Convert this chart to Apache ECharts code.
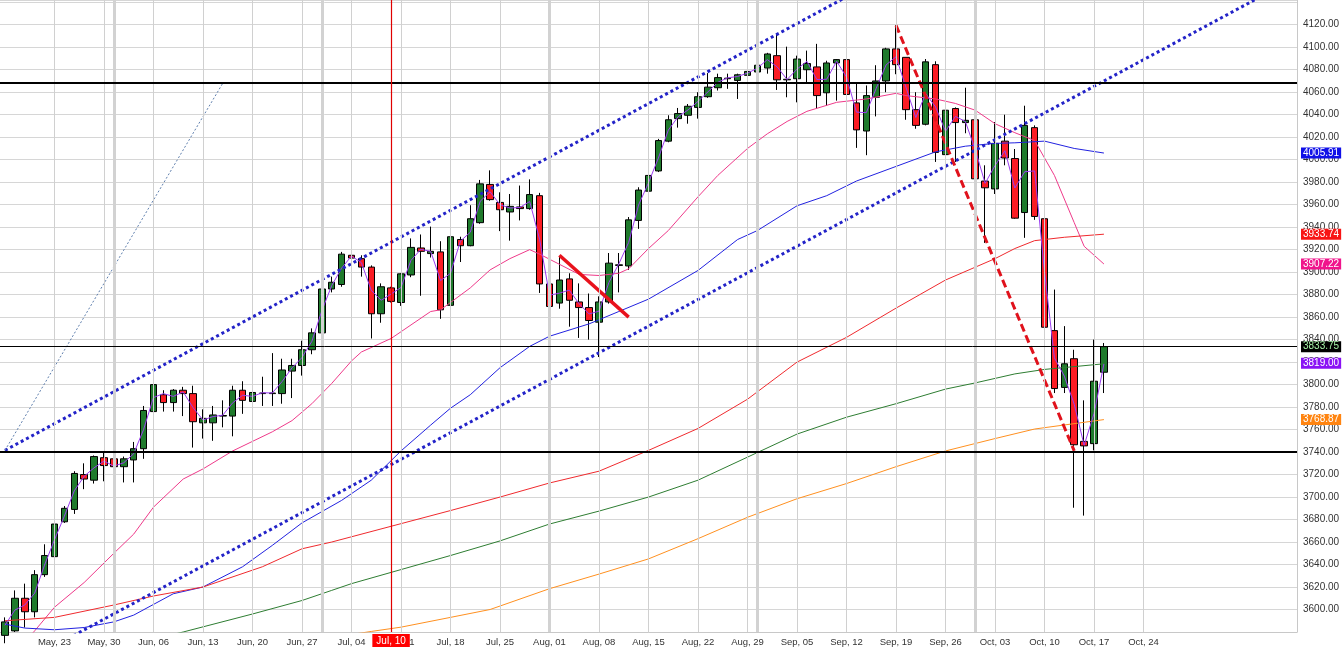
<!DOCTYPE html>
<html>
<head>
<meta charset="utf-8">
<title>Daily chart</title>
<script src="https://cdn.jsdelivr.net/npm/echarts@6/dist/echarts.min.js"></script>
<style>
  html, body { margin: 0; padding: 0; background: #fff; }
  #chart { width: 1343px; height: 662px; }
</style>
</head>
<body>
<div id="chart"></div>
<script>
// daily bars, index 0 = first bar on the left (131 slots, data for 112)
const slotCount = 131;

const opens = [
  3577, 3581, 3610, 3598, 3631, 3647, 3678, 3689, 3720, 3715,
  3735, 3734, 3727, 3733, 3743, 3776, 3791, 3784, 3795, 3792,
  3766, 3766, 3772, 3772, 3795, 3785, 3792, 3792, 3792, 3812,
  3817, 3831, 3846, 3885, 3889, 3915, 3912, 3904.5, 3863, 3886,
  3873, 3897.5, 3921.5, 3916.5, 3918, 3870.5, 3929, 3923.5, 3944, 3978,
  3962, 3953.5, 3958, 3956.5, 3968, 3889.5, 3872.5, 3894, 3873.5, 3868.5,
  3855.5, 3873.5, 3906, 3905.5, 3946, 3972, 3990, 4016.5, 4036.5, 4039.5,
  4046.5, 4056, 4064, 4072, 4070.5, 4075, 4078, 4081.5, 4092.5, 4071,
  4072, 4080, 4082.5, 4059.5, 4086, 4089, 4050.5, 4025.5, 4055.5, 4070,
  4098.5, 4091, 4044.5, 4031.5, 4084.5, 4004.5, 4045.5, 4033, 4035.5, 3981,
  3974, 4016.5, 4001, 3953, 4028.5, 3947.5, 3848, 3797.5, 3823, 3749.5,
  3747.5, 3811
];
const closes = [
  3589, 3610, 3598, 3631, 3648, 3676, 3690, 3721, 3716, 3736,
  3728, 3727, 3734, 3743, 3777, 3800, 3784, 3795, 3792, 3767,
  3770, 3773, 3772.5, 3795, 3786, 3793, 3792.5, 3792.5, 3813, 3817,
  3831, 3846, 3885, 3891, 3916, 3912.5, 3904.5, 3863, 3887, 3874,
  3898.5, 3922, 3918.5, 3918.5, 3866.5, 3931.5, 3923.5, 3947.5, 3978.5, 3964.5,
  3955.5, 3958.5, 3956.5, 3969, 3889.5, 3869.5, 3893, 3875, 3868.5, 3857,
  3873.5, 3908, 3906.5, 3946.5, 3973, 3986, 4017, 4035.5, 4041, 4047.5,
  4056, 4064.5, 4073, 4072.5, 4075.5, 4078.5, 4084, 4094, 4071, 4071.5,
  4089.5, 4085.5, 4057, 4086, 4089, 4058, 4026.5, 4057, 4070, 4098.5,
  4084.5, 4044.5, 4030.5, 4087, 4006.5, 4044, 4033, 4035, 3983, 3975,
  4014.5, 4001.5, 3948, 4030.5, 3949.5, 3851, 3796.5, 3818.5, 3746.5, 3745.5,
  3803, 3833.75
];
const lows = [
  3570, 3580, 3584, 3593, 3629, 3645, 3677, 3685, 3707, 3712,
  3714, 3706, 3713, 3713, 3734, 3775, 3776, 3776, 3772, 3744,
  3752, 3750, 3762, 3754, 3774, 3780, 3781, 3781, 3783, 3788,
  3808, 3827, 3845, 3882, 3887, 3911, 3896, 3841, 3855, 3873,
  3870, 3895.5, 3879, 3913, 3858.5, 3853.5, 3909, 3923, 3943, 3963.5,
  3936.5, 3928, 3946, 3955.5, 3881.5, 3846.5, 3867.5, 3851.5, 3841.5, 3840,
  3824.5, 3872, 3882, 3902, 3938.5, 3947.5, 3989, 4015.5, 4028.5, 4032,
  4036.5, 4055, 4061.5, 4063, 4054, 4062, 4076, 4076.5, 4062, 4055.5,
  4051, 4067.5, 4045.5, 4048, 4052.5, 4049, 4010.5, 4004, 4038.5, 4060,
  4076, 4035.5, 4027.5, 4030.5, 3998, 4002.5, 3998, 4023.5, 3965, 3926,
  3969.5, 3995, 3947.5, 3930.5, 3946.5, 3850.5, 3792.5, 3792.5, 3690.5, 3683.5,
  3741.5, 3792.5
];
const highs = [
  3593, 3617, 3623, 3635, 3658, 3677, 3692, 3723, 3730, 3737,
  3740, 3740, 3736, 3749, 3781, 3800.5, 3795, 3796, 3798, 3799,
  3778, 3781, 3786, 3799, 3803, 3795, 3807, 3828, 3823, 3823,
  3839, 3850, 3894, 3896, 3918, 3916, 3915, 3906, 3890, 3887,
  3899, 3930, 3933.5, 3940.5, 3927.5, 3935.5, 3931.5, 3959.5, 3982, 3990.5,
  3971, 3969.5, 3977, 3982.5, 3970.5, 3900, 3913.5, 3899, 3890, 3881,
  3878.5, 3917, 3917, 3949, 3975.5, 3994, 4018.5, 4039.5, 4046, 4049.5,
  4060, 4077, 4076.5, 4076.5, 4076.5, 4085.5, 4086.5, 4095, 4112.5, 4100.5,
  4092.5, 4097, 4103, 4088, 4089.5, 4089, 4067.5, 4066, 4084, 4099.5,
  4119.5, 4091, 4060, 4089.5, 4087.5, 4049.5, 4046.5, 4064, 4036.5, 3995,
  4033.5, 4040, 4009.5, 4048, 4030.5, 3966.5, 3884.5, 3852, 3831, 3786,
  3840, 3837
];

// short (2-bar) average
const fastLine = [
  3586, 3599.5, 3604, 3614.5, 3639.5, 3662, 3683, 3705.5, 3718.5, 3726,
  3732, 3727.5, 3730.5, 3738.5, 3760, 3788.5, 3792, 3789.5, 3793.5, 3779.5,
  3768.5, 3771.5, 3772.8, 3783.8, 3790.5, 3789.5, 3792.8, 3792.5, 3802.8, 3815,
  3824, 3838.5, 3865.5, 3888, 3903.5, 3914.3, 3908.5, 3883.8, 3875, 3880.5,
  3886.3, 3910.3, 3920.3, 3918.5, 3892.5, 3899, 3927.5, 3935.5, 3963, 3971.5,
  3960, 3957, 3957.5, 3962.8, 3929.3, 3879.5, 3881.3, 3884, 3871.8, 3862.8,
  3865.3, 3890.8, 3907.3, 3926.5, 3959.8, 3979.5, 4001.5, 4026.3, 4038.3, 4044.3,
  4051.8, 4060.3, 4068.8, 4072.8, 4074, 4077, 4081.3, 4089, 4082.5, 4071.3,
  4080.5, 4087.5, 4071.3, 4071.5, 4087.5, 4073.5, 4042.3, 4041.8, 4063.5, 4084.3,
  4091.5, 4064.5, 4037.5, 4058.8, 4046.8, 4025.3, 4038.5, 4034, 4009, 3979,
  3994.8, 4008, 3974.8, 3989.3, 3990, 3900.3, 3823.8, 3807.5, 3782.5, 3746,
  3774.3, 3818.4
];

// moving averages as [bar, price]
const pinkLine = [
  [0, 3552], [3, 3581], [5, 3602], [8, 3624], [11, 3650], [13, 3667], [15, 3691],
  [18, 3716], [20, 3725], [23, 3741], [27, 3758], [29, 3768], [31, 3783], [33, 3801],
  [35, 3821], [36, 3829], [39, 3841], [43, 3865], [44, 3866.5], [47, 3886], [49, 3902],
  [51, 3912], [53, 3920], [54, 3916], [56, 3907], [58, 3898], [60, 3897], [62, 3899],
  [63, 3903], [65, 3921], [67, 3937], [70, 3967], [72, 3986], [75, 4010], [77, 4023],
  [79, 4034], [81, 4043], [84, 4051], [87, 4054], [90, 4059], [91, 4057], [94, 4054],
  [96, 4050], [98, 4044], [100, 4032], [102, 4024], [104, 4017], [106, 3986],
  [108, 3944], [109, 3923], [111, 3907.22]
];
const blueLine = [
  [0, 3587], [2, 3583.5], [5, 3582], [8, 3584], [11, 3589], [13, 3595], [17, 3614],
  [20, 3620], [24, 3638], [27, 3657], [30, 3677], [34, 3697], [37, 3715], [40, 3741],
  [43, 3764], [45, 3779], [47, 3791], [50, 3815], [53, 3834], [55, 3843], [59, 3854],
  [62, 3865], [65, 3876], [70, 3901.5], [74, 3929], [76, 3937], [80, 3959], [83, 3968],
  [86, 3981], [90, 3994], [94, 4007], [97, 4012], [100, 4014.5], [102, 4015],
  [105, 4016.5], [108, 4010], [111, 4005.91]
];
const redLine = [
  [0, 3590], [5, 3593], [11, 3604], [15, 3612], [20, 3620], [26, 3638], [30, 3654],
  [33, 3660], [39, 3674], [45, 3688], [50, 3700], [55, 3712.5], [60, 3723], [65, 3741.5],
  [70, 3761], [75, 3787], [80, 3820], [85, 3842], [90, 3868], [95, 3893], [100, 3912],
  [102, 3921], [104, 3928], [107, 3931], [111, 3933.74]
];
const greenLine = [
  [0, 3540], [10, 3563], [18, 3580], [25, 3596], [30, 3608], [33, 3617], [35, 3623],
  [40, 3635.5], [45, 3648], [50, 3661], [55, 3676], [60, 3687.5], [65, 3700], [70, 3715],
  [75, 3735.5], [80, 3756], [85, 3771], [90, 3783], [95, 3796], [98, 3801.5],
  [102, 3809.5], [105, 3813.5], [111, 3818.5]
];
const orangeLine = [
  [30, 3571], [37, 3580.5], [40, 3584.3], [45, 3593], [49, 3600], [55, 3618.5],
  [60, 3631.5], [65, 3645], [70, 3663], [75, 3682], [80, 3698.5], [85, 3712],
  [90, 3727], [95, 3741], [100, 3752], [104, 3760.5], [111, 3768.87]
];

// drawn trend lines as [bar, price] end points
const upperChannel = [[0, 3741.5], [88, 4159]];
const lowerChannel = [[0, 3544], [130, 4160]];
const fanLine = [[0, 3741.5], [22, 4068]];
const shortDownLine = [[56, 3915], [63, 3860]];
const dropLine = [[90, 4119.5], [108, 3741]];

// horizontal levels
const levels = [4068, 3740.5];
const lastPrice = 3833.75;
const lastFast = 3819.00;

// x axis
const weekIndex = [5, 10, 15, 20, 25, 30, 35, 40, 45, 50, 55, 60, 65, 70, 75, 80, 85, 90, 95, 100, 105, 110, 115];
const weekLabels = ['May, 23', 'May, 30', 'Jun, 06', 'Jun, 13', 'Jun, 20', 'Jun, 27', 'Jul, 04', 'Jul, 11',
  'Jul, 18', 'Jul, 25', 'Aug, 01', 'Aug, 08', 'Aug, 15', 'Aug, 22', 'Aug, 29', 'Sep, 05', 'Sep, 12',
  'Sep, 19', 'Sep, 26', 'Oct, 03', 'Oct, 10', 'Oct, 17', 'Oct, 24'];
const monthIndex = [11, 32, 55, 76, 98];
const cursorIndex = 39;
const cursorLabel = 'Jul, 10';

const FONT = '"Liberation Sans", Arial, sans-serif';
const categories = Array.from({ length: slotCount }, (_, i) => String(i));
const candleData = opens.map((o, i) => [o, closes[i], lows[i], highs[i]]);

function tag(value, bg, fg) {
  return {
    yAxis: value,
    lineStyle: { color: 'rgba(0,0,0,0)', width: 0 },
    label: {
      show: true, position: 'end', distance: 4,
      formatter: value.toFixed(2),
      backgroundColor: bg, color: fg || '#fff',
      padding: [1, 2, 0, 2], fontSize: 10, fontFamily: FONT
    }
  };
}

function maSeries(name, data, color, lastValue, tagColor) {
  return {
    name, type: 'line', data, z: 3,
    symbol: 'none', smooth: false,
    lineStyle: { color, width: 1 },
    silent: true,
    markLine: {
      silent: true, symbol: ['none', 'none'],
      lineStyle: { color: 'rgba(0,0,0,0)' },
      data: [tag(lastValue, tagColor || color)]
    }
  };
}

function trendSeries(data, color, width, type) {
  return {
    type: 'line', data, z: 4, symbol: 'none', silent: true,
    lineStyle: { color, width, type }
  };
}

const chart = echarts.init(document.getElementById('chart'), null, { renderer: 'canvas' });

chart.setOption({
  animation: false,
  backgroundColor: '#ffffff',
  grid: { left: -1.5, right: 46, top: 0, bottom: 30 },
  xAxis: {
    type: 'category',
    data: categories,
    boundaryGap: true,
    axisLine: { lineStyle: { color: '#c8c8c8' } },
    axisTick: { show: false },
    splitLine: { show: false },
    axisLabel: {
      interval: (i) => weekIndex.indexOf(i) >= 0,
      formatter: (v, i) => weekLabels[weekIndex.indexOf(i)] || '',
      color: '#333', fontSize: 9.5, fontFamily: FONT, margin: 5
    }
  },
  yAxis: {
    type: 'value',
    position: 'right',
    min: 3580, max: 4142, interval: 20,
    axisLine: { show: true, lineStyle: { color: '#c8c8c8' } },
    axisTick: { show: false },
    splitLine: { lineStyle: { color: '#d6d6d6', width: 1 } },
    axisLabel: {
      formatter: (v) => (v >= 3600 && v <= 4120) ? v.toFixed(2) : '',
      color: '#333', fontSize: 10, fontFamily: FONT, margin: 6
    }
  },
  series: [
    {
      // vertical grid: weekly and month separators
      type: 'line', data: [], z: 1, silent: true,
      markLine: {
        silent: true, symbol: ['none', 'none'], label: { show: false },
        lineStyle: { color: '#d0d0d0', width: 1, type: 'solid' },
        data: weekIndex.map(i => ({ xAxis: i }))
          .concat(monthIndex.map(i => ({ xAxis: i, lineStyle: { color: '#d2d2d2', width: 3, type: 'solid' } })))
      }
    },
    {
      type: 'candlestick',
      data: candleData,
      z: 2,
      barWidth: 7,
      silent: true,
      itemStyle: {
        color: '#1f7a2c', color0: '#fb1c24',
        borderColor: '#000', borderColor0: '#000', borderWidth: 1
      }
    },
    maSeries('ma20', pinkLine, '#ee3a8a', 3907.22, '#f0148c'),
    maSeries('ma50', blueLine, '#2222e0', 4005.91, '#1010e8'),
    maSeries('ma100', redLine, '#f02a2e', 3933.74, '#f81414'),
    {
      name: 'ma200', type: 'line', data: greenLine, z: 3, symbol: 'none',
      smooth: false, silent: true,
      lineStyle: { color: '#2e7d32', width: 1 }
    },
    maSeries('ma150', orangeLine, '#ff9020', 3768.87, '#ff8410'),
    {
      name: 'fast', type: 'line', data: fastLine, z: 3, symbol: 'none', silent: true,
      lineStyle: { color: '#9a3cf0', width: 1 },
      markLine: {
        silent: true, symbol: ['none', 'none'],
        lineStyle: { color: 'rgba(0,0,0,0)' },
        data: [tag(lastFast, '#8a12f5')]
      }
    },
    {
      // horizontal levels and last price
      type: 'line', data: [], z: 4, silent: true,
      markLine: {
        silent: true, symbol: ['none', 'none'],
        lineStyle: { color: '#000', width: 2, type: 'solid' },
        data: levels.map(v => ({ yAxis: v, label: { show: false } }))
          .concat([Object.assign(tag(lastPrice, '#000', '#a6f0a6'), { lineStyle: { color: '#000', width: 1, type: 'solid' } })])
      }
    },
    trendSeries(upperChannel, '#2323c8', 3, 'dotted'),
    trendSeries(lowerChannel, '#2323c8', 3, 'dotted'),
    trendSeries(fanLine, '#5f7fae', 1, [2, 2]),
    trendSeries(shortDownLine, '#e8121c', 3.5, 'solid'),
    trendSeries(dropLine, '#e0121c', 3, [8, 4]),
    {
      // cursor
      type: 'line', data: [], z: 6, silent: true,
      markLine: {
        silent: true, symbol: ['none', 'none'],
        lineStyle: { color: '#e00000', width: 1.2, type: 'solid' },
        data: [{
          xAxis: cursorIndex,
          label: {
            show: true, position: 'start', distance: 2,
            formatter: cursorLabel,
            backgroundColor: '#ff0000', color: '#fff',
            padding: [2, 4, 1, 4], fontSize: 10, fontFamily: FONT
          }
        }]
      }
    }
  ]
});
</script>
</body>
</html>
